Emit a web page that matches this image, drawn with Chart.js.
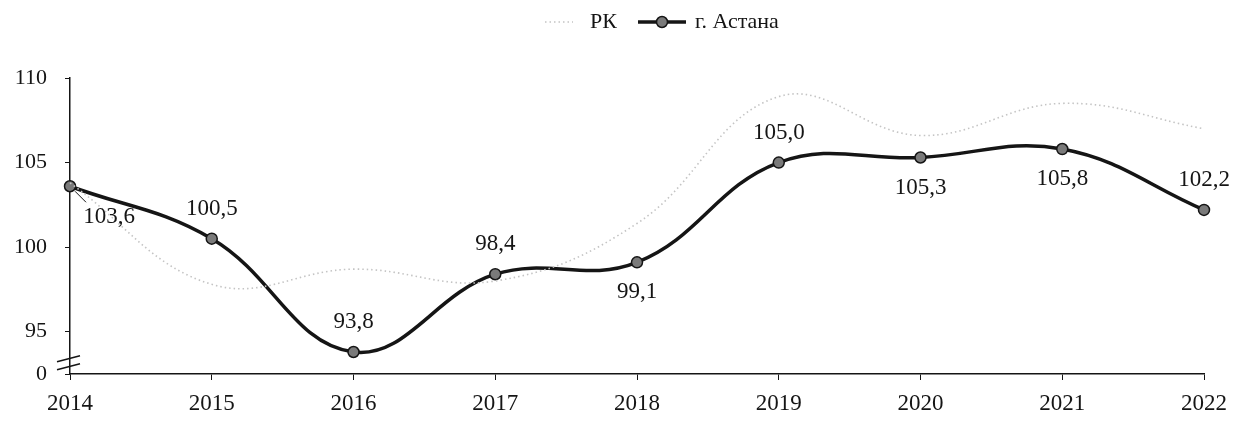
<!DOCTYPE html>
<html>
<head>
<meta charset="utf-8">
<script src="https://cdn.jsdelivr.net/npm/chart.js@4"></script>
<style>
  html, body { margin: 0; padding: 0; background: #fff; }
  #wrap { width: 1241px; height: 424px; }
</style>
</head>
<body>
<div id="wrap"><canvas id="myChart" width="1241" height="424"></canvas></div>
<script>
// данные графика
var years = ['2014', '2015', '2016', '2017', '2018', '2019', '2020', '2021', '2022'];
var seriesNames = ['РК', 'г. Астана'];
var rk = [103.8, 97.8, 98.7, 98.0, 101.4, 108.9, 106.6, 108.5, 107.0]; // бледная линия, значения на глаз
var astana = [103.6, 100.5, 93.8, 98.4, 99.1, 105.0, 105.3, 105.8, 102.2];
var yTicks = [92.5, 95, 100, 105, 110]; // 92.5 = разрыв оси, подпись "0"
var labelPos = ['br', 'a', 'a', 'a', 'b', 'a', 'b', 'b', 'a']; // где подпись: над / под точкой

var FONT = '"Liberation Serif", "Times New Roman", serif';
var INK = '#151515';

// подписи значений, разрыв оси и легенда
var extras = {
    id: 'extras',
    afterDatasetsDraw: function (chart) {
        var ctx = chart.ctx;
        var meta = chart.getDatasetMeta(1);
        ctx.save();
        ctx.font = '23px ' + FONT;
        ctx.fillStyle = INK;
        ctx.textAlign = 'center';
        ctx.textBaseline = 'middle';
        meta.data.forEach(function (pt, i) {
            var txt = astana[i].toFixed(1).replace('.', ',');
            var x = pt.x, y = pt.y;
            if (labelPos[i] === 'a') {
                y -= 30;
            } else if (labelPos[i] === 'b') {
                y += 30;
            } else {
                // подпись справа снизу с выноской
                ctx.strokeStyle = INK;
                ctx.lineWidth = 1;
                ctx.beginPath();
                ctx.moveTo(x + 5, y + 5);
                ctx.lineTo(x + 16, y + 16);
                ctx.stroke();
                x += 39;
                y += 31;
            }
            ctx.fillText(txt, x, y);
        });

        // разрыв оси Y
        var ys = chart.scales.y;
        var ax = ys.right;
        var yb = ys.getPixelForValue(93.4);
        ctx.strokeStyle = INK;
        ctx.lineWidth = 1.5;
        ctx.beginPath();
        ctx.moveTo(ax - 13, yb + 3);
        ctx.lineTo(ax + 10, yb - 3);
        ctx.moveTo(ax - 13, yb + 11);
        ctx.lineTo(ax + 10, yb + 5);
        ctx.stroke();

        // легенда
        var ly = 22;
        ctx.textAlign = 'left';
        ctx.font = '22px ' + FONT;
        ctx.strokeStyle = '#c4c4c4';
        ctx.lineWidth = 1.5;
        ctx.setLineDash([1.5, 3]);
        ctx.beginPath();
        ctx.moveTo(545, ly);
        ctx.lineTo(573, ly);
        ctx.stroke();
        ctx.setLineDash([]);
        ctx.fillText(seriesNames[0], 590, ly);
        ctx.strokeStyle = INK;
        ctx.lineWidth = 3.5;
        ctx.beginPath();
        ctx.moveTo(638, ly);
        ctx.lineTo(686, ly);
        ctx.stroke();
        ctx.beginPath();
        ctx.arc(662, ly, 5.5, 0, Math.PI * 2);
        ctx.fillStyle = '#7a7a7a';
        ctx.fill();
        ctx.lineWidth = 1.5;
        ctx.stroke();
        ctx.fillStyle = INK;
        ctx.fillText(seriesNames[1], 695, ly);
        ctx.restore();
    }
};

var ctx = document.getElementById('myChart').getContext('2d');
var myChart = new Chart(ctx, {
    type: 'line',
    data: {
        labels: years,
        datasets: [{
            label: seriesNames[0],
            data: rk,
            borderColor: '#c4c4c4',
            borderWidth: 1.6,
            borderDash: [1.5, 3],
            pointRadius: 0,
            tension: 0.4,
            fill: false
        }, {
            label: seriesNames[1],
            data: astana,
            borderColor: INK,
            borderWidth: 3.5,
            pointRadius: 5.5,
            pointBackgroundColor: '#7a7a7a',
            pointBorderColor: INK,
            pointBorderWidth: 1.5,
            tension: 0.4,
            fill: false
        }]
    },
    options: {
        responsive: false,
        animation: false,
        events: [],
        layout: { padding: { top: 78, right: 37, left: 0, bottom: 0 } },
        plugins: {
            legend: { display: false },
            tooltip: { enabled: false }
        },
        scales: {
            x: {
                offset: false,
                grid: { display: true, drawOnChartArea: false, tickLength: 6, color: INK },
                border: { color: INK, width: 1.5 },
                ticks: { color: INK, font: { family: FONT, size: 23 }, padding: 10, maxRotation: 0 },
                afterFit: function (s) { s.height = 50; }
            },
            y: {
                min: 92.5,
                max: 110,
                afterBuildTicks: function (s) {
                    s.ticks = yTicks.map(function (v) { return { value: v }; });
                },
                grid: { display: true, drawOnChartArea: false, tickLength: 5, color: INK },
                border: { color: INK, width: 1.5 },
                ticks: {
                    color: INK,
                    font: { family: FONT, size: 22 },
                    padding: 18,
                    callback: function (v) { return v === 92.5 ? '0' : v; }
                },
                afterFit: function (s) { s.width = 70; }
            }
        }
    },
    plugins: [extras]
});
</script>
</body>
</html>
